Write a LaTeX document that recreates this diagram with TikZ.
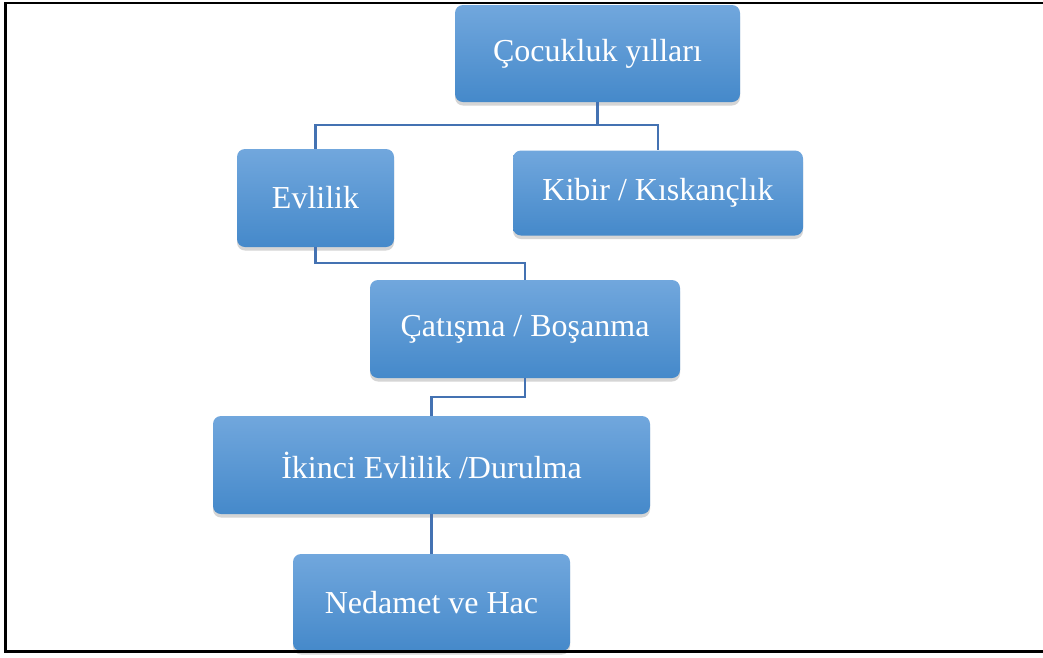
\documentclass[tikz,border=0pt]{standalone}
\usepackage{fontspec}
\setmainfont{Liberation Serif}
\usetikzlibrary{shadows}
\definecolor{boxtop}{RGB}{113,167,221}
\definecolor{boxbot}{RGB}{69,137,202}
\definecolor{linkblue}{RGB}{68,114,178}
\tikzset{
  stagebox/.style={rectangle, rounded corners=8pt, top color=boxtop, bottom color=boxbot,
    draw=none, text=white, inner sep=0pt, font=\fontsize{32}{37}\selectfont,
    drop shadow={opacity=0.33, shadow xshift=0pt, shadow yshift=-3.5pt}},
  link/.style={draw=linkblue, line width=2.8pt},
}
\begin{document}
\begin{tikzpicture}[x=1pt,y=-1pt]
\useasboundingbox (0,0) rectangle (1043,657);
\fill[white] (0,0) rectangle (1043,657);
\node[stagebox, minimum width=285pt, minimum height=97pt] (c1) at (597.5,53.5) {Çocukluk yılları};
\node[stagebox, minimum width=157pt, minimum height=98pt] (ev) at (315.5,198) {Evlilik};
\node[stagebox, minimum width=290pt, minimum height=85pt] (kb) at (658,193) {Kibir / Kıskançlık};
\node[stagebox, minimum width=310pt, minimum height=98pt] (ct) at (525,329) {Çatışma / Boşanma};
\node[stagebox, minimum width=437pt, minimum height=98pt] (ik) at (431.5,465) {İkinci Evlilik /Durulma};
\node[stagebox, minimum width=277pt, minimum height=97pt] (nd) at (431.5,602.5) {Nedamet ve Hac};
\coordinate (j1) at (597.5,125);
\coordinate (j2) at (315.5,263);
\coordinate (j3) at (525,397);
\draw[link] (c1.south) -- (j1) -| (ev.north);
\draw[link] (j1) -| (kb.north);
\draw[link] (ev.south) -- (j2) -| (ct.north);
\draw[link] (ct.south) -- (j3) -| (ik.north);
\draw[link] (ik.south) -- (nd.north);
\draw[black, line width=2.4pt] (1043,3) -- (5.5,3) -- (5.5,651.5) -- (1043,651.5);
\end{tikzpicture}
\end{document}
